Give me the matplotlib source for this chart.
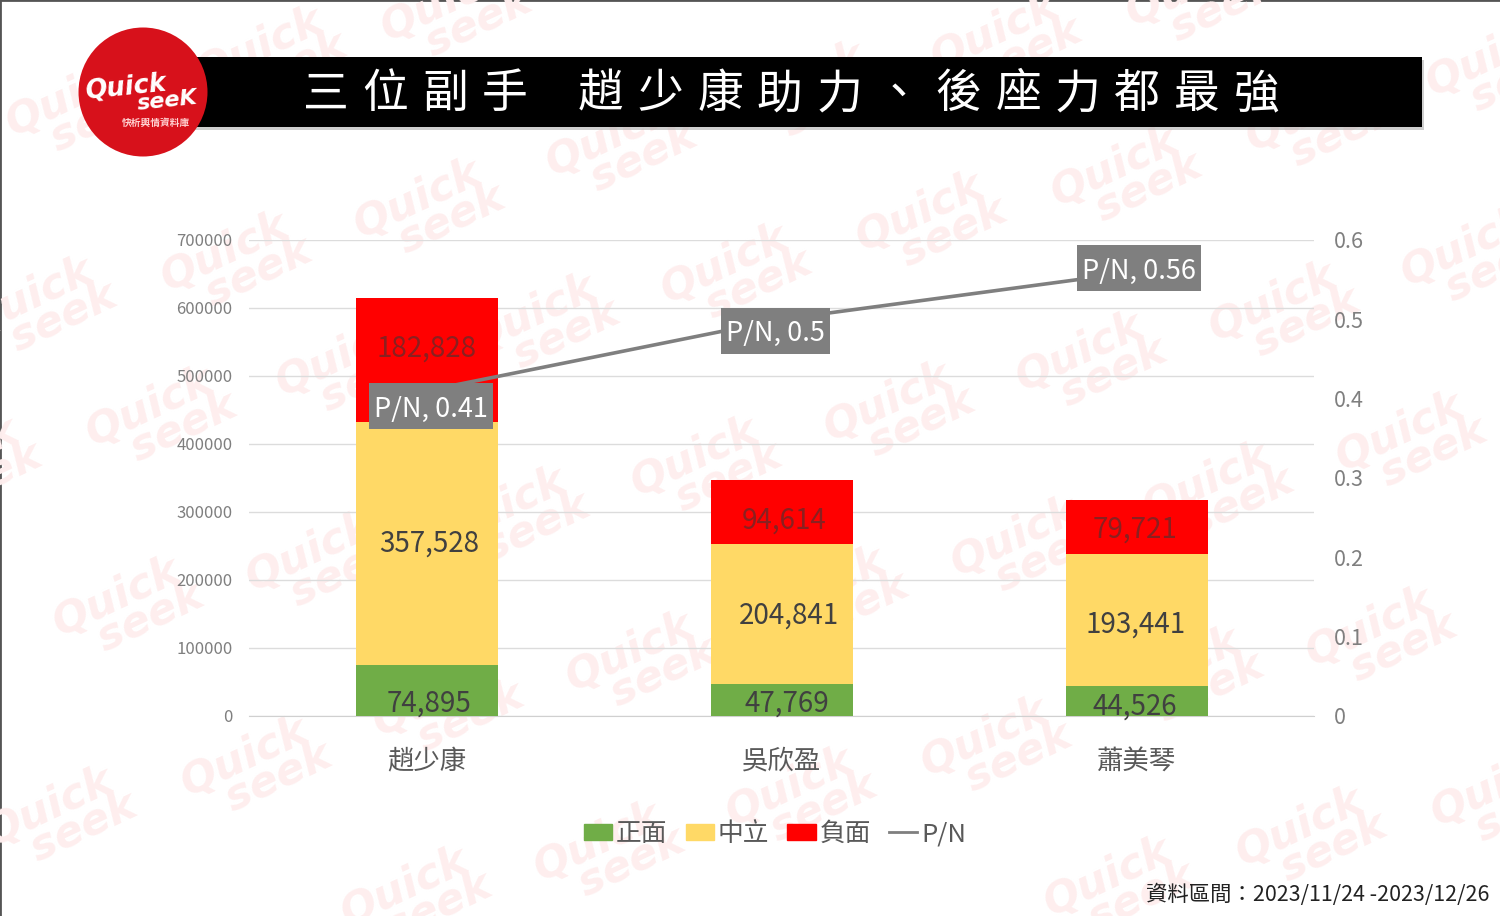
import numpy as np
import matplotlib
matplotlib.use('Agg')
import matplotlib.pyplot as plt
from matplotlib.patches import Rectangle, Circle, Patch
from matplotlib.lines import Line2D
from matplotlib.path import Path

plt.rcParams['font.family'] = ['Noto Sans CJK TC', 'DejaVu Sans']

# chart data
names = ['趙少康', '吳欣盈', '蕭美琴']
positive = [74895, 47769, 44526]
neutral = [357528, 204841, 193441]
negative = [182828, 94614, 79721]
pn = [0.41, 0.5, 0.56]
left_ticks = [0, 100000, 200000, 300000, 400000, 500000, 600000, 700000]
right_ticks = [0, 0.1, 0.2, 0.3, 0.4, 0.5, 0.6]
right_labels = ['0', '0.1', '0.2', '0.3', '0.4', '0.5', '0.6']
title_left = '三位副手'
title_right = '趙少康助力、後座力都最強'

# watermark stamps, centres in pixels
wm_centers = [(455, 15), (270, 60), (80, 110), (1200, 0), (1005, 45), (812, 95), (620, 150), (428, 212),
              (235, 265), (40, 310), (1500, 70), (1320, 125), (1125, 180), (930, 225), (735, 277), (543, 327),
              (350, 370), (160, 420), (-35, 470), (1475, 260), (1283, 315), (1090, 365), (898, 415), (705, 470),
              (513, 520), (320, 565), (127, 610), (1410, 445), (1217, 495), (1025, 550), (832, 600), (640, 665),
              (447, 710), (255, 770), (60, 820), (1380, 640), (1187, 680), (995, 750), (800, 800), (608, 855),
              (415, 900), (1505, 800), (1310, 840), (1118, 890)]

W, H = 1500, 916
fig = plt.figure(figsize=(W / 100, H / 100), dpi=100, facecolor='white')

# background layer in pixel coordinates, for the watermark
bg = fig.add_axes([0, 0, 1, 1], zorder=0)
bg.set_xlim(0, W)
bg.set_ylim(H, 0)
bg.axis('off')
for x, y in wm_centers:
    bg.text(x - 4, y + 2, 'Quick\n   seek', color='#feeeee', fontsize=31, family='DejaVu Sans',
            weight='bold', style='italic', rotation=25, ha='center', va='center',
            linespacing=0.72, rotation_mode='anchor')
bg.plot([0, 0], [H, 0], color='#555555', lw=2)
bg.plot([0, W], [0, 0], color='#555555', lw=2)

# bars
ax = fig.add_axes([249 / W, 1 - 716 / H, 1065 / W, 476 / H], zorder=1)
ax.patch.set_alpha(0)
idx = np.arange(len(names))
pos = np.array(positive)
neu = np.array(neutral)
neg = np.array(negative)
ax.bar(idx, pos, 0.4, color='#70AD47', zorder=3)
ax.bar(idx, neu, 0.4, bottom=pos, color='#FFD966', zorder=3)
ax.bar(idx, neg, 0.4, bottom=pos + neu, color='#FF0000', zorder=3)
ax.set_xlim(-0.5, 2.5)
ax.set_ylim(0, 700000)
ax.set_yticks(left_ticks)
ax.set_yticklabels([str(v) for v in left_ticks], color='#7f7f7f', fontsize=12)
ax.set_xticks(idx)
ax.set_xticklabels(names, color='#595959', fontsize=19)
ax.tick_params(axis='y', length=0, pad=12)
ax.tick_params(axis='x', length=0, pad=23)
ax.grid(axis='y', color='#dcdcdc', lw=1, zorder=0)
ax.set_axisbelow(True)
for s in ['top', 'left', 'right']:
    ax.spines[s].set_visible(False)
ax.spines['bottom'].set_color('#d0d0d0')


def bar_label(x, y, val, dx, dy, color):
    ax.annotate(f'{val:,}', (x, y), xytext=(dx, dy), textcoords='offset points', ha='center',
                va='center', fontsize=20, color=color, zorder=5)


# label offsets in points, per bar
offs_pos = [(2, -9.5), (4, -3), (-1, -4)]
offs_neu = [(2, 0), (5, -1.5), (-1, -3)]
offs_neg = [(0, 8), (2, -6), (-1, -2)]
for i in idx:
    bar_label(i, pos[i] / 2, positive[i], *offs_pos[i], '#404040')
    bar_label(i, pos[i] + neu[i] / 2, neutral[i], *offs_neu[i], '#404040')
    bar_label(i, pos[i] + neu[i] + neg[i] / 2, negative[i], *offs_neg[i], '#8a2020')


def label_box(x0, y0, width, height, mutation_size):
    # plain rectangle, text sits a little low in it
    px, top_pad, low_pad = 5, 12.5, 6.5
    x1, y1 = x0 + width + px, y0 + height + top_pad
    x0, y0 = x0 - px, y0 - low_pad
    return Path([(x0, y0), (x1, y0), (x1, y1), (x0, y1), (x0, y0)], closed=True)


# P/N line on the second axis
ax2 = ax.twinx()
ax2.set_zorder(2)
ax2.patch.set_alpha(0)
ax2.plot(idx, pn, color='#7f7f7f', lw=2.6, solid_capstyle='round', zorder=4)
ax2.set_ylim(0, 0.6)
ax2.set_yticks(right_ticks)
ax2.set_yticklabels(right_labels, color='#7f7f7f', fontsize=15.5)
ax2.tick_params(axis='y', length=0, pad=14)
for s in ax2.spines.values():
    s.set_visible(False)
label_offs = [(3, -13.5), (-4.5, -10.5), (1.5, 0.5)]
for i, v in enumerate(pn):
    ax2.annotate(f'P/N, {v:g}', (i, v), xytext=label_offs[i], textcoords='offset points',
                 ha='center', va='center', fontsize=19.5, color='white', zorder=6,
                 bbox=dict(boxstyle=label_box, fc='#7f7f7f', ec='none'))

# legend
handles = [Patch(color='#70AD47', label='正面'), Patch(color='#FFD966', label='中立'),
           Patch(color='#FF0000', label='負面'), Line2D([], [], color='#7f7f7f', lw=2, label='P/N')]
fig.legend(handles=handles, ncols=4, loc='center', bbox_to_anchor=(775 / W, 1 - 834 / H), frameon=False,
           fontsize=18.5, labelcolor='#595959', handlelength=1.1, handleheight=0.6, handletextpad=0.15,
           columnspacing=0.7)

# title bar, logo and source in pixel coordinates
top = fig.add_axes([0, 0, 1, 1], zorder=3)
top.set_xlim(0, W)
top.set_ylim(H, 0)
top.axis('off')
top.add_patch(Rectangle((192, 60), 1232, 70, fc='#b0b0b0', ec='none', alpha=0.6))
top.add_patch(Rectangle((190, 57), 1232, 70, fc='black', ec='none'))
for k, ch in enumerate(title_left):
    top.text(326 + 59.6 * k, 94, ch, color='white', fontsize=33, weight='light', ha='center', va='center')
for k, ch in enumerate(title_right):
    top.text(601 + 59.6 * k, 94, ch, color='white', fontsize=33, weight='light', ha='center', va='center')
top.add_patch(Circle((143, 92), 64.5, fc='#D7111B', ec='none'))
top.text(125, 87, 'Quick', color='white', fontsize=18.5, weight='bold', style='italic', family='DejaVu Sans',
         rotation=6, ha='center', va='center')
top.text(167, 101, 'seeK', color='white', fontsize=16, weight='bold', style='italic', family='DejaVu Sans',
         rotation=6, ha='center', va='center')
top.text(156, 123, '快析輿情資料庫', color='#ffd0d0', fontsize=7, weight='bold', ha='center', va='center')
top.text(1489, 895, '資料區間：2023/11/24 -2023/12/26', color='#222222', fontsize=15.4, ha='right', va='center')

fig.savefig('out.png', dpi=100)
